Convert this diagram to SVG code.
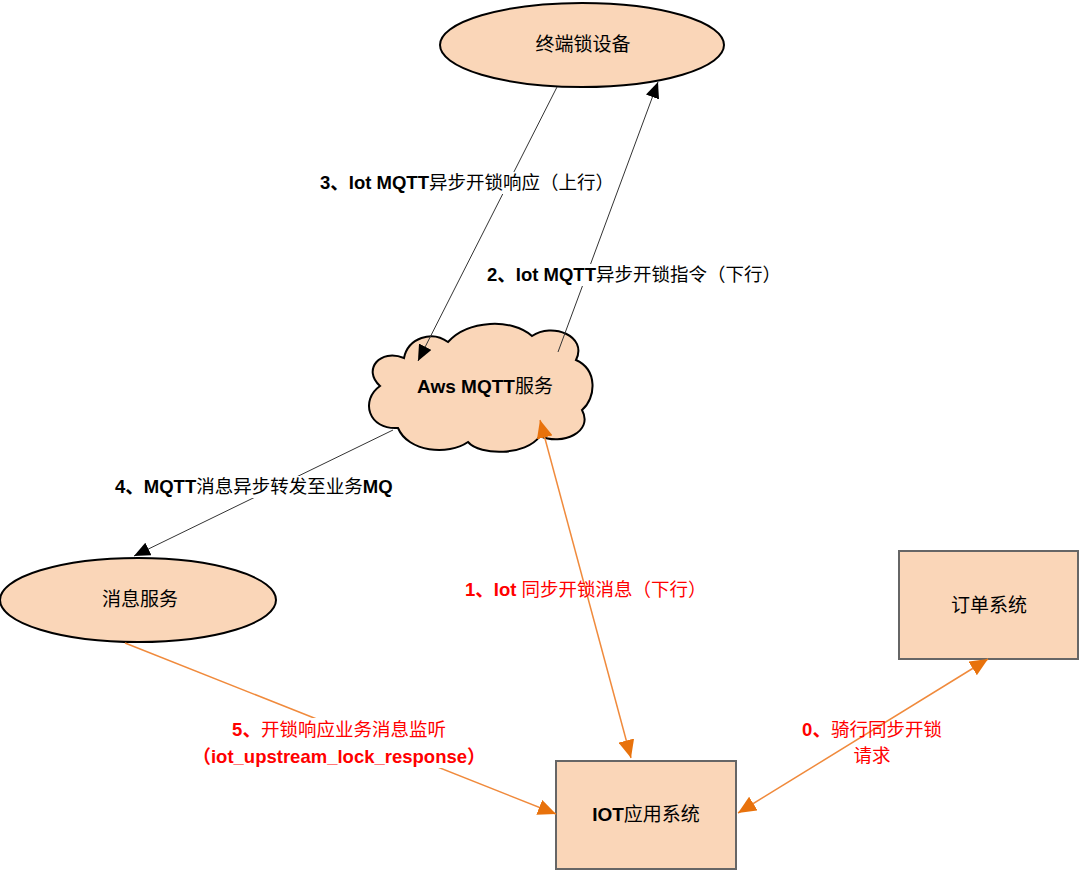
<svg xmlns="http://www.w3.org/2000/svg" width="1080" height="870" viewBox="0 0 1080 870">
<defs>
<style>
.node{fill:#FAD6B8;stroke:#000;stroke-width:2}
.box{fill:#FAD6B8;stroke:#666;stroke-width:2}
.nt{font-family:"Liberation Sans","Noto Sans CJK SC",sans-serif;font-size:19px;fill:#000;text-anchor:middle}
.lb{font-family:"Liberation Sans","Noto Sans CJK SC",sans-serif;font-size:18.5px;fill:#000}
.red{fill:#FF0000}
.b{font-weight:bold}
.blk{stroke:#333;stroke-width:1;fill:none}
.org{stroke:#F08A3C;stroke-width:1.5;fill:none}
.bg{fill:#fff}
</style>
<marker id="ab" markerUnits="userSpaceOnUse" markerWidth="18" markerHeight="14" refX="16" refY="7" orient="auto-start-reverse" viewBox="0 0 18 14">
<path d="M0,0 L16,7 L0,14 Z" fill="#000"/>
</marker>
<marker id="ao" markerUnits="userSpaceOnUse" markerWidth="20" markerHeight="16" refX="18" refY="8" orient="auto-start-reverse" viewBox="0 0 20 16">
<path d="M0,0 L18,8 L0,16 Z" fill="#E8720C"/>
</marker>
</defs>
<rect width="1080" height="870" fill="#fff"/>

<g id="terminal">
<ellipse class="node" cx="582" cy="45" rx="142" ry="42"/>
<text class="nt" x="583" y="51">终端锁设备</text>
</g>

<g id="aws">
<path class="node" d="M398,428 C368,430 360,400 380,386 C362,370 380,348 404,358 C408,338 432,330 448,342 C468,320 512,318 532,336 C552,322 588,336 576,360 C598,370 596,398 582,410 C594,432 562,446 540,436 C526,456 480,456 468,442 C448,456 408,452 398,428 Z"/>
<text class="nt b" x="485" y="393">Aws MQTT<tspan font-weight="normal">服务</tspan></text>
</g>

<g id="msg">
<ellipse class="node" cx="138" cy="600" rx="138" ry="42"/>
<text class="nt" x="140" y="606">消息服务</text>
</g>

<g id="iot">
<rect class="box" x="556" y="761" width="180" height="108"/>
<text class="nt" x="646" y="821"><tspan class="b">IOT</tspan>应用系统</text>
</g>

<g id="order">
<rect class="box" x="899" y="551" width="179" height="108"/>
<text class="nt" x="989" y="612">订单系统</text>
</g>

<g id="connectors">
<line class="blk" x1="557" y1="87" x2="418" y2="361" marker-end="url(#ab)"/>
<line class="blk" x1="558" y1="352" x2="658" y2="82" marker-end="url(#ab)"/>
<line class="blk" x1="393" y1="430" x2="134" y2="556" marker-end="url(#ab)"/>
<line class="org" x1="540" y1="420" x2="631" y2="758" marker-start="url(#ao)" marker-end="url(#ao)"/>
<line class="org" x1="125" y1="643" x2="556" y2="814" marker-end="url(#ao)"/>
<line class="org" x1="988" y1="659" x2="738" y2="813" marker-start="url(#ao)" marker-end="url(#ao)"/>
</g>

<g id="labels">
<rect class="bg" x="318" y="172" width="298" height="22"/>
<text class="lb" x="320" y="189"><tspan class="b">3、Iot MQTT</tspan>异步开锁响应（上行）</text>
<rect class="bg" x="485" y="264" width="296" height="22"/>
<text class="lb" x="487" y="281"><tspan class="b">2、Iot MQTT</tspan>异步开锁指令（下行）</text>
<rect class="bg" x="113" y="476" width="290" height="22"/>
<text class="lb" x="115" y="493"><tspan class="b">4、MQTT</tspan>消息异步转发至业务<tspan class="b">MQ</tspan></text>
<text class="lb red" x="465" y="596"><tspan class="b">1、Iot </tspan>同步开锁消息（下行）</text>
<rect class="bg" x="198" y="718" width="282" height="50"/>
<text class="lb red" x="339" y="736" text-anchor="middle"><tspan class="b">5、</tspan>开锁响应业务消息监听</text>
<text class="lb red b" x="339" y="763" text-anchor="middle">（iot_upstream_lock_response）</text>
<text class="lb red" x="872" y="736" text-anchor="middle"><tspan class="b">0、</tspan>骑行同步开锁</text>
<text class="lb red" x="872" y="762" text-anchor="middle">请求</text>
</g>
</svg>
